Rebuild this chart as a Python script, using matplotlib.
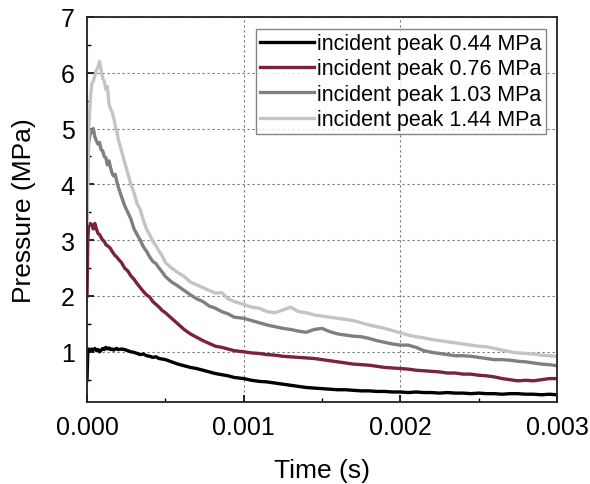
import matplotlib
matplotlib.use("Agg")
import matplotlib.pyplot as plt
from matplotlib.ticker import MultipleLocator

plt.rcParams['font.family'] = ['Liberation Sans', 'DejaVu Sans']

# time axis, in units of 10 microseconds
t10us = [0, 0.5, 1, 2, 3, 4, 5, 6, 7, 8, 9, 10, 11, 12, 13, 14, 15, 16, 17, 18, 19, 20,
         22, 24, 26, 28, 30, 32, 34, 36, 38, 40, 42, 44, 46, 48, 50,
         54, 58, 62, 66, 70, 74, 78, 82, 86, 90, 94, 100,
         105, 110, 115, 120, 125, 130, 135, 140, 145, 150, 155, 160, 165, 170, 175, 180,
         185, 190, 195, 200, 205, 210, 215, 220, 225, 230, 235, 240, 245, 250, 255, 260,
         265, 270, 275, 280, 285, 290, 295, 300]
time_s = [v * 1e-5 for v in t10us]

p044 = [0.5, 1.0, 1.05, 1.02, 1.05, 1.03, 1.06, 1.02, 1.04, 1.0, 1.03, 1.06, 1.04, 1.08, 1.05, 1.07, 1.04, 1.05, 1.03, 1.05, 1.06, 1.04,
        1.05, 1.04, 1.02, 1.0, 0.99, 0.97, 0.95, 0.96, 0.93, 0.92, 0.9, 0.91, 0.88, 0.87, 0.86,
        0.82, 0.78, 0.75, 0.72, 0.7, 0.67, 0.64, 0.61, 0.59, 0.57, 0.54, 0.52,
        0.49, 0.47, 0.46, 0.44, 0.42, 0.4, 0.38, 0.36, 0.35, 0.34, 0.33, 0.32, 0.32, 0.31, 0.3, 0.3,
        0.29, 0.29, 0.28, 0.28, 0.27, 0.28, 0.27, 0.27, 0.26, 0.27, 0.26, 0.26, 0.25, 0.26, 0.25, 0.25,
        0.24, 0.25, 0.25, 0.24, 0.24, 0.23, 0.24, 0.23]

p076 = [2.0, 3.0, 3.25, 3.3, 3.28, 3.2, 3.3, 3.2, 3.12, 3.1, 3.05, 3.0, 2.98, 2.92, 2.9, 2.88, 2.85, 2.8, 2.76, 2.72, 2.7, 2.66,
        2.6, 2.5, 2.45, 2.36, 2.3, 2.22, 2.15, 2.08, 2.02, 1.98, 1.9, 1.85, 1.8, 1.74, 1.7,
        1.6, 1.5, 1.4, 1.32, 1.26, 1.2, 1.15, 1.1, 1.08, 1.05, 1.02, 1.0,
        0.98, 0.97, 0.95, 0.94, 0.92, 0.91, 0.9, 0.89, 0.88, 0.86, 0.84, 0.82, 0.8, 0.78, 0.77, 0.76,
        0.74, 0.72, 0.71, 0.7, 0.69, 0.67, 0.66, 0.65, 0.64, 0.62, 0.62, 0.6, 0.6, 0.58, 0.57, 0.55,
        0.52, 0.5, 0.48, 0.49, 0.48, 0.5, 0.52, 0.52]

p103 = [3.4, 4.3, 4.75, 4.9, 4.95, 5.0, 4.85, 4.78, 4.72, 4.75, 4.62, 4.6, 4.5, 4.48, 4.35, 4.42, 4.3, 4.2, 4.15, 4.18, 4.05, 3.95,
        3.78, 3.62, 3.5, 3.38, 3.2, 3.1, 3.0, 2.88, 2.8, 2.7, 2.62, 2.58, 2.5, 2.43, 2.35,
        2.25, 2.18, 2.1, 2.02, 1.95, 1.9, 1.82, 1.78, 1.72, 1.68, 1.62, 1.6,
        1.56, 1.52, 1.48, 1.45, 1.42, 1.4, 1.37, 1.35, 1.4, 1.42, 1.36, 1.32, 1.3, 1.28, 1.27, 1.24,
        1.2, 1.17, 1.14, 1.12, 1.12, 1.08, 1.02, 0.99, 0.97, 0.95, 0.93, 0.93, 0.92, 0.9, 0.88, 0.86,
        0.86, 0.85, 0.83, 0.82, 0.8, 0.78, 0.77, 0.75]

p144 = [3.3, 4.2, 4.9, 5.5, 5.8, 5.85, 5.95, 6.05, 6.1, 6.2, 6.05, 5.9, 5.85, 5.7, 5.75, 5.45, 5.35, 5.3, 5.2, 5.05, 4.95, 4.8,
        4.6, 4.4, 4.2, 4.0, 3.85, 3.65, 3.55, 3.35, 3.2, 3.1, 2.98, 2.9, 2.8, 2.72, 2.6,
        2.5, 2.42, 2.35, 2.25, 2.2, 2.15, 2.1, 2.05, 2.06, 1.95, 1.9, 1.85,
        1.8, 1.78, 1.72, 1.7, 1.75, 1.8, 1.72, 1.7, 1.66, 1.64, 1.62, 1.6, 1.58, 1.56, 1.52, 1.48,
        1.45, 1.42, 1.38, 1.34, 1.3, 1.27, 1.25, 1.22, 1.2, 1.18, 1.16, 1.14, 1.12, 1.1, 1.09, 1.06,
        1.03, 1.0, 0.98, 0.97, 0.96, 0.94, 0.93, 0.92]

series = [p044, p076, p103, p144]
labels = ["incident peak 0.44 MPa", "incident peak 0.76 MPa",
          "incident peak 1.03 MPa", "incident peak 1.44 MPa"]
colors = ["#000000", "#7a2438", "#7f7f7f", "#c4c4c4"]

fig = plt.figure(figsize=(5.9, 4.85), dpi=100)
ax = fig.add_axes([0.1475, 0.169, 0.7966, 0.794])

for y, lab, c in zip(series, labels, colors):
    ax.plot(time_s, y, color=c, lw=2.4, label=lab)

ax.set_xlim(0, 0.003)
ax.set_ylim(0.1, 7)
ax.xaxis.set_minor_locator(MultipleLocator(0.0005))
ax.yaxis.set_minor_locator(MultipleLocator(0.5))
ax.set_xticks([0, 0.001, 0.002, 0.003])
ax.set_xticklabels(["0.000", "0.001", "0.002", "0.003"])
ax.set_yticks([1, 2, 3, 4, 5, 6, 7])

ax.grid(True, which='major', color='#777777', ls=(0, (2, 2.5)), lw=0.8)
ax.tick_params(which='major', direction='in', length=5, width=1.2, labelsize=18, pad=9,
               top=False, right=False)
ax.tick_params(which='minor', direction='in', length=3, width=1.0, top=False, right=False)
for s in ax.spines.values():
    s.set_linewidth(1.3)
    s.set_color('#222222')

ax.set_xlabel("Time (s)", fontsize=19, labelpad=14)
ax.set_ylabel("Pressure (MPa)", fontsize=19, labelpad=18)

leg = ax.legend(loc='upper right', bbox_to_anchor=(0.977, 0.969), fontsize=15.5,
                frameon=True, fancybox=False, handlelength=2.5, handletextpad=0.15,
                labelspacing=0.2, borderpad=0.2, borderaxespad=0)
leg.get_frame().set_edgecolor('#666666')
leg.get_frame().set_linewidth(1.0)

fig.savefig("out.png", dpi=100)
